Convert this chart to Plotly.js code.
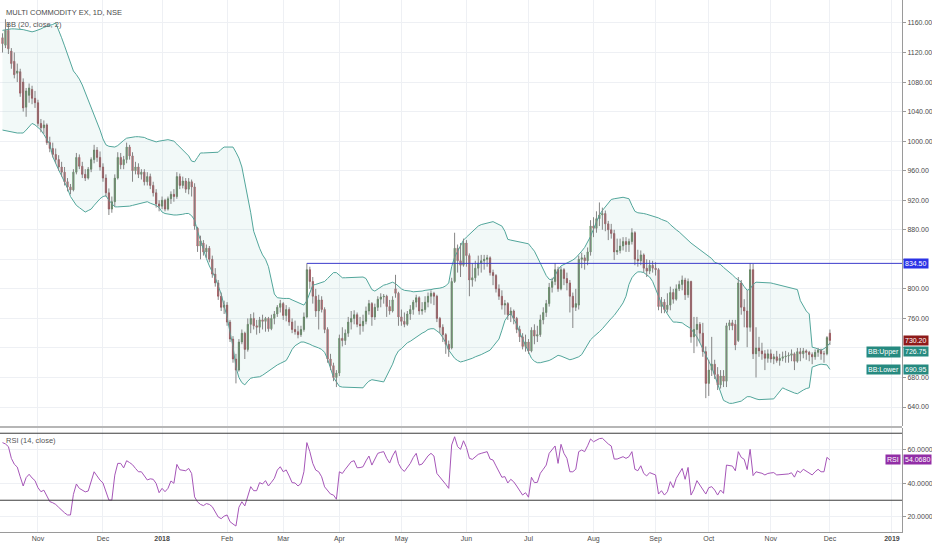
<!DOCTYPE html>
<html><head><meta charset="utf-8">
<script src="https://cdn.plot.ly/plotly-3.0.1.min.js"></script>
<style>html,body{margin:0;padding:0;background:#fff}#chart{width:932px;height:550px}</style>
</head><body><div id="chart"></div>
<script>
// ---- data ----
const startDate = '2017-10-12';
const holidays = ['2017-10-19','2017-10-20','2017-12-25','2018-01-26','2018-02-13','2018-03-02','2018-03-29','2018-03-30',
  '2018-05-01','2018-08-15','2018-08-22','2018-09-13','2018-09-20','2018-10-02','2018-10-18','2018-11-08','2018-11-23'];

const open = [
  1140,1130,1150,1122,1108,1092,1094,1080,1046,1062,1070,1058,
  1052,1024,1018,1022,998,990,982,975,965,958,945,938,934,958,978,966,955,950,962,975,988,978,
  965,950,930,908,918,950,978,968,975,992,980,960,965,955,958,945,952,940,930,915,
  912,920,908,922,928,925,952,940,946,935,945,938,882,858,862,850,855,840,820,808,790,775,
  778,755,732,705,690,728,740,718,752,760,750,748,758,756,760,746,760,766,775,
  780,764,772,755,745,742,738,745,762,826,810,790,770,785,772,745,705,696,680,
  686,733,730,740,755,760,765,752,750,756,770,780,762,775,786,789,790,776,770,800,794,
  762,756,752,766,772,782,788,770,772,782,790,794,790,760,748,738,725,720,810,855,838,832,
  862,845,812,815,828,835,838,840,842,822,818,800,790,778,780,765,770,760,745,735,722,
  728,716,744,736,738,758,768,780,802,810,826,800,826,814,808,790,775,778,840,842,838,850,
  885,882,895,900,902,888,880,875,850,852,858,864,860,864,876,840,838,846,828,824,832,
  828,826,776,782,772,778,795,786,800,806,812,792,810,735,745,752,740,715,
  672,690,698,684,670,682,675,750,754,752,730,808,775,770,748,826,712,720,716,712,706,
  712,705,708,703,706,708,709,710,712,702,715,712,716,714,711,708,714,717,712,712,
  740];
const high = [
  1146,1165,1160,1126,1120,1105,1098,1085,1072,1078,1075,1068,
  1056,1030,1028,1024,1006,998,990,981,972,965,950,942,962,984,982,972,962,965,978,995,992,986,
  970,955,936,925,955,985,984,980,998,995,985,972,970,962,962,958,956,945,935,920,
  925,922,925,932,935,958,956,952,950,950,948,943,884,872,866,860,858,845,828,812,795,784,
  782,758,736,712,732,745,742,760,766,768,758,762,765,762,762,765,770,778,785,
  782,778,775,760,757,750,750,768,834.5,830,816,800,792,790,775,748,712,700,690,
  738,748,745,762,770,771,768,762,765,776,785,782,780,790,794,793,792,785,790,819,796,
  772,768,770,778,785,792,790,782,790,795,798,796,792,762,752,740,730,815,876,860,862,868,
  866,848,835,838,845,846,846,846,844,826,820,806,798,785,782,775,772,762,750,740,738,
  732,748,752,750,765,775,785,808,815,835,830,830,828,822,812,795,800,845,849,846,856,893,
  897,905,917,910,906,892,888,880,868,868,870,870,868,882,878,853,852,848,840,839,838,
  836,828,789,786,794,803,800,806,811,818,815,814,811,762,762,755,754,722,
  704,735,704,694,690,690,754,758,758,758,816,812,786,798,835,834,748,735,727,717,718,
  718,712,716,712,715,716,714,718,714,720,720,720,718,716,714,718,720,719,716,736,
  745];
const low = [
  1120,1126,1118,1098,1085,1080,1060,1040,1033,1052,1050,1045,
  1020,1012,1010,995,985,978,970,960,952,940,932,928,932,955,962,950,946,948,958,970,972,960,
  945,925,900,903,912,948,962,962,970,975,945,955,950,948,940,940,935,925,910,905,
  908,905,906,915,918,922,935,936,930,928,925,880,850,840,845,842,836,815,803,785,770,766,
  750,728,700,672,688,725,705,715,740,745,738,740,745,742,742,744,752,762,768,
  758,756,750,740,738,733,735,742,760,800,780,762,745,768,740,700,690,675,667,
  682,722,724,735,745,752,748,738,742,752,765,750,758,770,775,780,762,765,768,788,750,
  750,748,750,758,765,775,765,765,768,775,780,778,755,740,728,712,708,718,808,822,816,830,
  830,790,803,810,818,822,826,830,818,805,795,785,772,765,758,755,752,740,728,718,715,
  712,714,725,728,735,752,762,776,795,805,796,798,805,798,768,747,770,772,828,826,832,845,
  870,876,885,880,878,866,868,839,846,848,852,850,850,860,832,830,832,822,816,820,822,
  818,771,767,767,768,771,780,784,797,798,785,788,727,713,722,727,708,652,
  655,682,678,663,665,667,667,744,744,717,728,765,748,721,742,705,680,708,704,690,700,
  700,698,700,696,702,700,700,702,690,700,702,706,704,702,698,704,708,704,700,710,
  724];
const close = [
  1132,1150,1125,1105,1090,1095,1065,1045,1068,1072,1058,1052,
  1024,1018,1022,998,990,982,975,965,958,945,938,934,958,978,966,955,950,962,975,988,978,965,
  950,930,908,918,950,978,968,975,992,980,960,965,955,958,945,952,940,930,915,912,
  920,908,922,928,925,952,940,946,935,945,938,885,858,865,850,855,840,820,808,790,775,778,
  755,732,705,690,728,740,718,752,760,750,748,758,756,760,746,760,766,775,780,
  764,772,755,745,742,738,745,762,826,810,790,770,785,772,745,705,696,680,686,
  733,730,740,755,760,765,752,750,756,770,780,762,775,786,789,790,776,770,785,794,762,
  756,752,766,772,782,788,770,772,782,790,794,790,760,748,738,725,718,810,855,838,832,862,
  845,812,815,828,835,838,840,842,822,818,800,790,778,780,765,770,760,745,735,722,728,
  716,744,736,738,758,768,780,802,810,826,800,826,814,808,790,775,780,840,842,838,850,885,
  882,895,900,902,888,880,875,850,852,858,864,860,864,876,840,838,846,828,824,832,828,
  826,776,782,772,778,795,786,800,806,812,792,810,735,745,752,740,715,672,
  690,698,684,670,682,675,750,754,750,724,808,775,770,748,826,712,720,716,712,706,712,
  705,708,703,706,708,709,710,712,702,715,712,716,714,711,708,714,717,712,712,734,
  730.2];
const bbUpper = [
  1150,1151,1152,1152,1152,1152,1152,1151,1150,1149,1148,1149,
  1150,1152,1154,1155,1157,1158,1160,1151,1140,1129,1117,1106,1095,1090,1084,1076,1066,1056,1045,1035,1025,1015,
  1003,995,993,992,992,994,998,1001,1004,1005,1006,1006,1006,1006,1005,1003,1002,1000,999,1000,
  1001,1002,1002,1001,1000,996,992,988,985,980,973,972,978,984,984,984,984,984,984,985,989,992,
  992,992,992,985,977,965,945,925,903,878,866,855,846,840,830,811,793,788,787,
  787,787,787,785,783,782,780,778,784,796,805,806,807,808,810,814,818,822,822,
  818,815,815,815,815,815,815,816,816,814,807,799,797,800,803,805,806,808,809,807,803,
  800,798,798,797,796,796,797,797,798,798,799,800,800,801,802,804,808,830,843,851,859,866,
  870,874,878,882,885,887,888,889,890,891,889,887,885,878,867,866,865,864,864,863,862,
  861,856,851,843,834,826,818,813,812,818,826,831,833,835,836,839,842,846,851,856,863,871,
  881,891,900,906,911,917,921,922,923,924,924,923,922,913,905,903,903,902,901,900,899,
  897,896,894,892,891,887,883,880,877,873,869,865,862,859,856,853,850,847,
  844,841,836,834,833,829,826,823,819,815,812,809,803,798,800,806,809,809,809,808,808,
  808,807,806,806,805,804,803,802,801,799,784,777,770,766,721,720,718,717,719,722,
  726.75];
const bbLower = [
  1015,1014,1013,1012,1012,1011,1011,1011,1015,1019,1024,1022,
  1019,1015,1009,1002,996,979,969,961,953,945,936,925,918,913,910,907,904,906,908,913,918,922,
  925,926,920,915,911,911,911,911,912,912,913,914,915,916,917,918,916,915,913,910,
  904,902,901,900,900,900,900,901,902,902,899,893,878,865,853,841,831,824,815,804,793,777,
  762,741,722,694,680,673,670,675,679,680,680,681,683,686,689,691,694,697,699,
  701,703,710,718,723,726,728,728,727,725,723,722,720,718,714,705,693,680,674,
  668,667,667,667,667,666,666,666,666,671,675,677,676,675,674,674,682,689,698,709,716,
  719,723,727,729,732,735,737,740,742,745,746,746,743,740,734,727,717,711,706,703,701,702,
  703,705,706,708,709,711,713,715,717,722,727,732,744,757,763,767,759,752,741,732,723,
  713,706,702,700,700,701,701,703,705,708,710,709,707,705,704,705,706,708,711,718,726,731,
  735,738,742,746,751,756,760,764,769,775,781,790,806,815,820,823,823,822,819,816,810,
  801,790,780,772,766,760,755,755,754,754,751,749,746,740,735,727,718,710,
  702,694,682,670,659,649,647,645,645,646,647,648,651,654,654,652,651,650,650,650,650,
  650,651,656,661,666,664,662,660,659,658,661,663,665,666,694,696,697,698,698,697,
  690.95];
const rsi = [
  64.4,63.6,62.0,55.0,51.5,49.8,44.0,38.5,43.5,45.5,43.3,41.7,
  37.5,35.1,36.0,33.0,29.2,28.5,27.5,25.8,24.0,22.5,21.2,21.2,33.5,39.7,37.1,36.0,35.0,35.5,42.0,47.0,44.5,42.0,
  40.3,35.0,30.1,30.1,45.0,52.0,52.0,49.3,53.6,52.5,51.2,49.0,47.0,47.0,44.5,42.1,42.8,42.5,40.0,34.5,
  37.1,35.1,37.1,41.5,40.1,51.4,48.2,48.0,47.6,49.0,46.0,32.0,29.0,27.5,26.8,28.0,27.5,26.1,23.0,20.0,19.0,20.5,
  21.2,17.2,15.8,14.6,25.8,29.1,26.6,32.0,38.1,35.7,35.7,40.5,39.7,41.7,38.5,40.7,43.1,48.0,50.0,
  47.0,48.1,44.5,40.5,40.3,38.5,40.0,47.0,64.4,59.0,52.0,48.0,47.0,44.0,38.0,36.0,33.7,33.1,30.6,
  47.0,46.0,48.5,51.0,53.0,53.6,49.4,49.5,50.0,53.5,56.4,51.0,55.0,58.0,58.6,59.0,55.0,52.2,56.5,59.6,52.0,
  48.8,47.2,49.5,52.0,55.5,58.0,51.0,51.6,54.0,56.5,58.0,56.4,46.0,44.0,42.0,39.5,37.1,63.0,67.9,62.0,60.4,65.5,
  61.5,55.0,54.4,56.0,57.4,58.0,58.4,59.0,54.6,54.0,50.5,47.5,43.7,44.1,40.3,42.5,41.0,38.5,36.0,33.1,34.5,
  31.8,43.7,40.5,40.7,46.1,48.5,51.0,58.0,60.0,62.4,52.0,63.4,58.0,55.0,47.0,47.0,48.5,59.0,60.0,59.0,62.5,66.6,
  64.9,66.0,66.8,67.0,65.0,63.6,62.4,54.6,54.6,55.2,56.0,55.0,56.0,59.0,48.5,47.6,50.6,46.0,44.5,46.5,45.8,
  45.1,33.7,35.7,33.1,35.1,41.1,37.5,43.1,46.0,49.0,42.5,49.6,33.1,36.5,41.7,39.0,36.0,33.7,
  37.5,38.1,36.1,33.1,36.1,34.1,51.0,50.8,50.4,47.6,59.0,55.6,54.4,48.3,60.4,44.7,47.0,46.5,46.1,45.1,46.0,
  46.3,46.5,45.1,45.3,45.5,45.6,45.7,46.4,43.8,47.6,46.5,48.5,47.5,46.5,45.1,47.0,48.5,47.0,47.0,55.6,
  54.068];
const tickLabels = ['Nov','Dec','<b>2018</b>','Feb','Mar','Apr','May','Jun','Jul','Aug','Sep','Oct','Nov','Dec','<b>2019</b>'];
const resistance = 834.5;
const resistanceBar = 103;   // bar where the horizontal line starts
const priceTicks = [640,680,720,760,800,840,880,920,960,1000,1040,1080,1120,1160];
// 720 and 840 are hidden behind the value boxes in the reference
const priceTickText = ['640.00','680.00','','760.00','800.00','','880.00','920.00','960.00','1000.00','1040.00','1080.00','1120.00','1160.00'];
const rsiTicks = [20,40,60];
const titleText = 'MULTI COMMODITY EX, 1D, NSE';
const bbText = 'BB (20, close, 2)';
const rsiText = 'RSI (14, close)';

// ---- trading calendar ----
function tradingDays(start, n, hol) {
  const set = new Set(hol), out = [];
  const d = new Date(start + 'T00:00:00Z');
  while (out.length < n) {
    const wd = d.getUTCDay(), s = d.toISOString().slice(0, 10);
    if (wd !== 0 && wd !== 6 && !set.has(s)) out.push(s);
    d.setUTCDate(d.getUTCDate() + 1);
  }
  return out;
}
const N = close.length;
const days = tradingDays(startDate, N, holidays);
const xs = days.map(s => s + ' 12:00');
const tickvals = [];
let lastM = days[0].slice(0, 7);
days.forEach(s => { const m = s.slice(0, 7); if (m !== lastM) { tickvals.push(s + ' 12:00'); lastM = m; } });
tickvals.push('2019-01-01 12:00');

// ---- styling ----
const FONT = 'Liberation Sans, Arial, sans-serif';
const UP = '#3a7a36', DOWN = '#a3202b', WICK = '#858585';
const BB = '#52a69b', RSIC = '#a656b8', GRID = '#eef0f4';

const wx = [], wy = [];
for (let i = 0; i < N; i++) { wx.push(xs[i], xs[i], null); wy.push(low[i], high[i], null); }
const bodyHigh = open.map((o, i) => Math.max(o, close[i]));
const bodyLow = open.map((o, i) => Math.min(o, close[i]));

const traces = [
  {type: 'scatter', mode: 'lines', x: xs, y: bbLower, xaxis: 'x2', yaxis: 'y',
   line: {color: BB, width: 1}, hoverinfo: 'skip'},
  {type: 'scatter', mode: 'lines', x: xs, y: bbUpper, xaxis: 'x2', yaxis: 'y',
   line: {color: BB, width: 1}, fill: 'tonexty', fillcolor: 'rgba(70,170,160,0.07)', hoverinfo: 'skip'},
  {type: 'scatter', mode: 'lines', x: wx, y: wy, xaxis: 'x2', yaxis: 'y',
   line: {color: WICK, width: 1}, hoverinfo: 'skip', connectgaps: false},
  {type: 'candlestick', x: xs, open: open, close: close, high: bodyHigh, low: bodyLow,
   xaxis: 'x2', yaxis: 'y', whiskerwidth: 0,
   increasing: {line: {color: UP, width: 0.6}, fillcolor: UP},
   decreasing: {line: {color: DOWN, width: 0.6}, fillcolor: DOWN}, hoverinfo: 'skip'},
  {type: 'scatter', mode: 'lines', x: xs, y: rsi, xaxis: 'x', yaxis: 'y2',
   line: {color: RSIC, width: 1}, hoverinfo: 'skip'}
];

const rb = [{bounds: ['sat', 'mon']}, {values: holidays}];
const xRange = ['2017-10-11 15:40', '2019-01-04 21:30'];
const H = 532; // plot height in px
const label = (y, yref, text, bg, xanchor, xshift, yshift) => ({
  xref: 'paper', x: 1, xanchor: xanchor, xshift: xshift, yref: yref, y: y, yanchor: 'middle', yshift: yshift || 0,
  text: text, showarrow: false, bgcolor: bg, borderpad: 1,
  font: {family: FONT, size: 7, color: '#ffffff'}
});
const n1 = N - 1;

const layout = {
  width: 932, height: 550, margin: {l: 0, r: 30, t: 0, b: 18},
  paper_bgcolor: '#ffffff', plot_bgcolor: '#ffffff', showlegend: false, hovermode: false,
  boxgap: 0.4,
  font: {family: FONT, size: 7, color: '#4a4a4a'},
  xaxis: {type: 'date', anchor: 'y2', domain: [0, 1], range: xRange, rangebreaks: rb,
    tickmode: 'array', tickvals: tickvals, ticktext: tickLabels, showgrid: true, gridcolor: GRID,
    showline: true, linecolor: '#9a9a9a', linewidth: 1, ticks: '', zeroline: false,
    tickfont: {family: FONT, size: 7, color: '#4a4a4a'}, rangeslider: {visible: false}, fixedrange: true},
  xaxis2: {type: 'date', anchor: 'y', matches: 'x', range: xRange, rangebreaks: rb,
    tickmode: 'array', tickvals: tickvals, showticklabels: false, showgrid: true, gridcolor: GRID,
    ticks: '', zeroline: false, rangeslider: {visible: false}, fixedrange: true},
  yaxis: {anchor: 'x2', domain: [(H - 426) / H, 1], side: 'right', range: [614.3, 1191.1],
    tickmode: 'array', tickvals: priceTicks, ticktext: priceTickText, showgrid: true, gridcolor: GRID,
    showline: true, linecolor: '#9a9a9a', linewidth: 1, ticks: 'outside', ticklen: 3, tickcolor: '#9a9a9a',
    zeroline: false, tickfont: {family: FONT, size: 7, color: '#4a4a4a'}, fixedrange: true},
  yaxis2: {anchor: 'x', domain: [0, (H - 428) / H], side: 'right', range: [11.04, 73.13],
    tickmode: 'array', tickvals: rsiTicks, tickformat: '.4f', showgrid: true, gridcolor: GRID,
    showline: true, linecolor: '#9a9a9a', linewidth: 1, ticks: 'outside', ticklen: 3, tickcolor: '#9a9a9a',
    zeroline: false, tickfont: {family: FONT, size: 7, color: '#4a4a4a'}, fixedrange: true},
  shapes: [
    {type: 'line', xref: 'paper', yref: 'paper', x0: 0, x1: 1, y0: (H - 427) / H, y1: (H - 427) / H,
     line: {color: '#b6b6b6', width: 2}},
    {type: 'line', xref: 'paper', yref: 'y2', x0: 0, x1: 1, y0: 70, y1: 70, line: {color: '#3c3c3c', width: 1}},
    {type: 'line', xref: 'paper', yref: 'y2', x0: 0, x1: 1, y0: 30, y1: 30, line: {color: '#3c3c3c', width: 1}},
    {type: 'line', xref: 'x2', yref: 'y', x0: xs[resistanceBar], x1: '2019-02-15', y0: resistance, y1: resistance,
     line: {color: '#3a3acb', width: 1}}
  ],
  annotations: [
    {xref: 'paper', yref: 'paper', x: 0, xshift: 4, xanchor: 'left', y: 1, yanchor: 'top', yshift: -6,
     text: titleText, showarrow: false, font: {family: FONT, size: 7.5, color: '#4a4a4a'}},
    {xref: 'paper', yref: 'paper', x: 0, xshift: 4, xanchor: 'left', y: 1, yanchor: 'top', yshift: -18,
     text: bbText, showarrow: false, font: {family: FONT, size: 7.5, color: '#555555'}},
    {xref: 'paper', yref: 'paper', x: 0, xshift: 4, xanchor: 'left', y: (H - 428) / H, yanchor: 'top', yshift: -6,
     text: rsiText, showarrow: false, font: {family: FONT, size: 7.5, color: '#555555'}},
    label(resistance, 'y', resistance.toFixed(2), '#2b33e6', 'left', 1),
    label(close[n1], 'y', close[n1].toFixed(2), '#8e1a1a', 'left', 1),
    label(bbUpper[n1], 'y', bbUpper[n1].toFixed(2), '#268a80', 'left', 1, -9),
    label(bbUpper[n1], 'y', 'BB:Upper', '#268a80', 'right', -1, -9),
    label(bbLower[n1], 'y', bbLower[n1].toFixed(2), '#268a80', 'left', 1),
    label(bbLower[n1], 'y', 'BB:Lower', '#268a80', 'right', -1),
    label(rsi[n1], 'y2', rsi[n1].toFixed(4), '#922ea6', 'left', 1),
    label(rsi[n1], 'y2', 'RSI', '#922ea6', 'right', -1)
  ]
};

Plotly.newPlot('chart', traces, layout, {staticPlot: true, displayModeBar: false});
</script>
</body></html>
